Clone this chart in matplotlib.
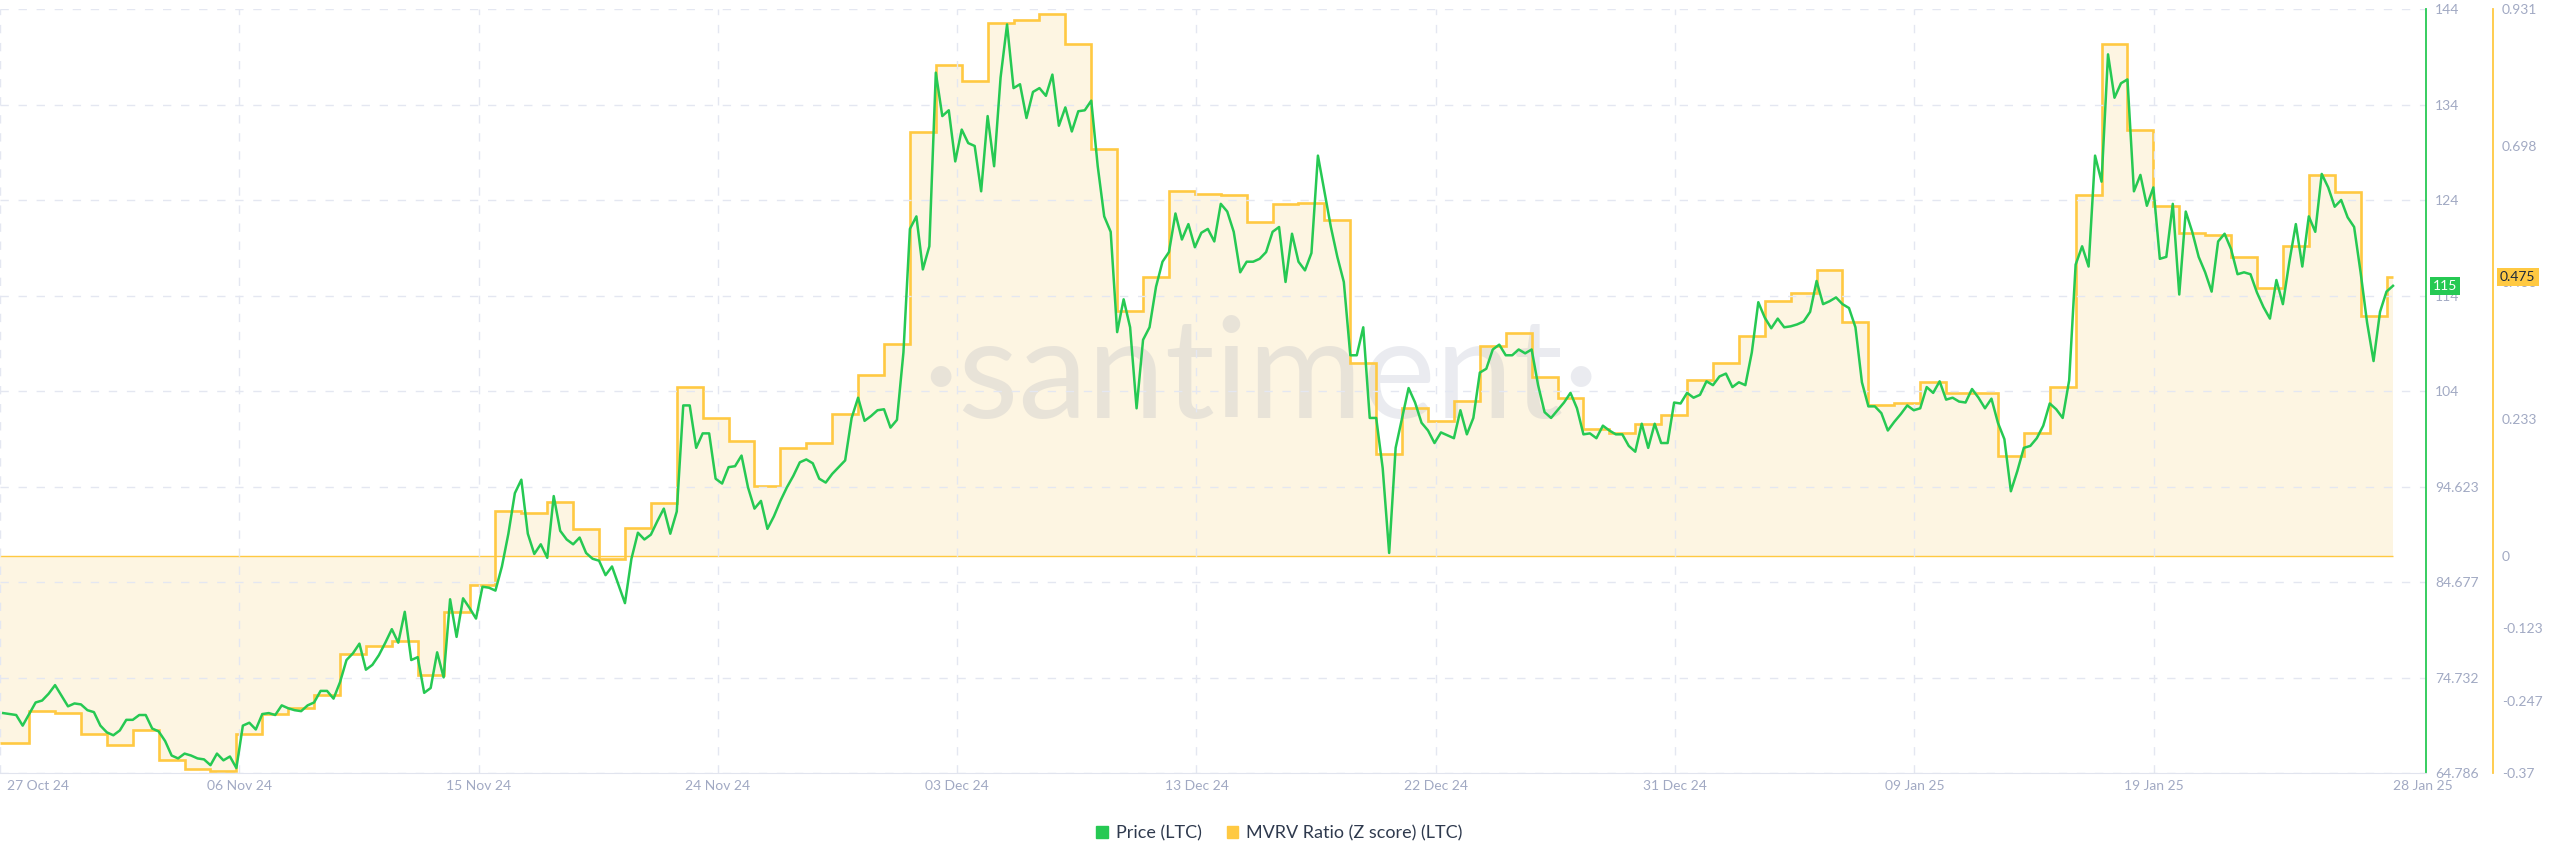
import numpy as np
import pandas as pd
import matplotlib
matplotlib.use("Agg")
import matplotlib.pyplot as plt
import matplotlib.dates as mdates
import matplotlib.transforms as mtransforms
from matplotlib.patches import Patch

plt.rcParams['font.family'] = ['Lato', 'DejaVu Sans']

# LTC price, one value every 6 hours from 28 Oct 2024 00:00
price = [
    71.0, 70.9, 70.8, 69.7, 70.9, 72.1, 72.3, 73.0, 73.9, 72.8,
    71.7, 72.0, 71.9, 71.3, 71.1, 69.7, 69.0, 68.7, 69.2, 70.3,
    70.3, 70.8, 70.8, 69.4, 69.1, 68.1, 66.6, 66.3, 66.8, 66.6,
    66.3, 66.2, 65.6, 66.8, 66.1, 66.5, 65.3, 69.7, 70.0, 69.3,
    70.9, 71.0, 70.8, 71.8, 71.5, 71.3, 71.2, 71.8, 72.1, 73.3,
    73.3, 72.5, 74.2, 76.5, 77.2, 78.2, 75.5, 76.0, 77.0, 78.3,
    79.7, 78.3, 81.5, 76.5, 76.8, 73.1, 73.6, 77.3, 74.7, 82.8,
    78.9, 82.9, 81.9, 80.8, 84.1, 84.0, 83.7, 86.2, 89.6, 93.8,
    95.2, 89.6, 87.5, 88.5, 87.1, 93.5, 89.9, 89.0, 88.5, 89.2,
    87.6, 87.0, 86.8, 85.3, 86.2, 84.3, 82.4, 87.0, 89.7, 89.0,
    89.5, 90.9, 92.2, 89.6, 91.9, 102.9, 102.9, 98.5, 100.0, 100.0,
    95.3, 94.8, 96.5, 96.6, 97.7, 94.4, 92.2, 93.0, 90.1, 91.4,
    93.0, 94.4, 95.6, 97.0, 97.3, 96.9, 95.3, 94.9, 95.8, 96.5,
    97.2, 101.6, 103.7, 101.3, 101.8, 102.4, 102.5, 100.6, 101.4, 108.4,
    121.2, 122.5, 117.0, 119.4, 137.4, 132.9, 133.5, 128.2, 131.5, 130.1,
    129.8, 125.1, 132.9, 127.7, 136.9, 142.4, 135.8, 136.2, 132.7, 135.4,
    135.8, 135.0, 137.2, 131.9, 133.8, 131.3, 133.4, 133.5, 134.5, 127.7,
    122.5, 120.9, 110.5, 113.9, 111.0, 102.6, 109.7, 111.0, 115.2, 117.8,
    118.8, 122.8, 120.1, 121.7, 119.3, 120.8, 121.2, 119.9, 123.8, 123.0,
    120.9, 116.7, 117.8, 117.8, 118.1, 118.8, 120.9, 121.4, 115.7, 120.7,
    117.8, 116.9, 118.7, 128.8, 125.1, 121.4, 118.3, 115.7, 108.1, 108.1,
    111.0, 101.6, 101.6, 96.4, 87.6, 98.5, 101.6, 104.7, 103.2, 101.1,
    100.3, 99.0, 100.1, 99.8, 99.5, 102.4, 99.9, 101.6, 106.3, 106.7,
    108.7, 109.2, 108.1, 108.1, 108.7, 108.3, 108.7, 105.0, 102.2, 101.6,
    102.4, 103.2, 104.2, 102.6, 99.9, 100.0, 99.5, 100.8, 100.3, 99.9,
    99.9, 98.7, 98.1, 101.0, 98.5, 101.0, 99.0, 99.0, 103.2, 103.1,
    104.2, 103.7, 104.0, 105.4, 105.0, 105.9, 106.2, 104.8, 105.3, 105.0,
    108.4, 113.6, 112.0, 110.9, 111.9, 111.0, 111.1, 111.3, 111.6, 112.6,
    115.8, 113.4, 113.7, 114.1, 113.4, 113.0, 111.0, 105.3, 102.8, 102.8,
    102.1, 100.3, 101.2, 102.0, 102.9, 102.4, 102.6, 104.8, 104.2, 105.4,
    103.5, 103.7, 103.3, 103.2, 104.6, 103.7, 102.6, 103.6, 101.1, 99.4,
    94.0, 96.1, 98.5, 98.7, 99.5, 100.8, 103.1, 102.5, 101.6, 105.5,
    117.5, 119.4, 117.3, 128.8, 126.1, 139.3, 134.8, 136.3, 136.7, 125.1,
    126.8, 123.6, 125.5, 118.1, 118.3, 123.8, 114.4, 123.0, 120.9, 118.3,
    116.7, 114.7, 119.9, 120.7, 119.1, 116.5, 116.7, 116.5, 114.6, 113.1,
    111.9, 115.9, 113.4, 117.8, 121.7, 117.3, 122.5, 120.9, 126.9, 125.5,
    123.5, 124.2, 122.4, 121.4, 116.7, 111.5, 107.5, 112.6, 114.7, 115.3,
]

# MVRV ratio (Z score), one value per day from 28 Oct 2024
mvrv = [
    -0.319, -0.265, -0.267, -0.303, -0.323, -0.296, -0.347, -0.363, -0.366, -0.303,
    -0.270, -0.259, -0.237, -0.168, -0.153, -0.145, -0.203, -0.096, -0.050, 0.077,
    0.073, 0.092, 0.045, -0.006, 0.048, 0.089, 0.287, 0.235, 0.196, 0.118,
    0.183, 0.192, 0.241, 0.307, 0.360, 0.721, 0.835, 0.809, 0.908, 0.912,
    0.922, 0.872, 0.693, 0.417, 0.475, 0.621, 0.616, 0.615, 0.569, 0.599,
    0.600, 0.572, 0.329, 0.173, 0.252, 0.229, 0.263, 0.358, 0.380, 0.305,
    0.269, 0.215, 0.209, 0.224, 0.240, 0.300, 0.329, 0.375, 0.434, 0.447,
    0.487, 0.398, 0.256, 0.260, 0.296, 0.277, 0.277, 0.170, 0.209, 0.288,
    0.614, 0.871, 0.725, 0.595, 0.550, 0.546, 0.509, 0.456, 0.528, 0.648,
    0.619, 0.408, 0.475,
]

price_tick_labels = ['64.786', '74.732', '84.677', '94.623', '104', '114', '124', '134', '144']
mvrv_tick_values = [-0.37, -0.247, -0.123, 0, 0.233, 0.466, 0.698, 0.931]
mvrv_tick_labels = ['-0.37', '-0.247', '-0.123', '0', '0.233', '0.466', '0.698', '0.931']

green = '#26c953'
yellow = '#ffc942'
fill_col = '#fdf5e2'
grid_col = '#e4e7f1'
label_col = '#a1a9c3'

price_times = pd.date_range('2024-10-28 00:00', periods=len(price), freq='6h')
mvrv_days = pd.date_range('2024-10-28', periods=len(mvrv), freq='D')
start = price_times[0] - pd.Timedelta(hours=3)
end = price_times[-1]
edges = mdates.date2num([start] + list(mvrv_days[1:]) + [end])
x_price = mdates.date2num(price_times)
x0, x1 = mdates.date2num(start), mdates.date2num(end)

fig = plt.figure(figsize=(25.6, 8.67), dpi=100)
ax = fig.add_axes([0, 0.1084, 2426 / 2560, 0.8812])
ax2 = ax.twinx()
ax.set_zorder(2)
ax.patch.set_visible(False)
ax2.set_zorder(1)

# MVRV: filled steps against zero
ax2.stairs(mvrv, edges, baseline=0, fill=True, color=fill_col, lw=0, zorder=1)
ax2.hlines(0, edges[0], edges[-1], color=yellow, lw=1, zorder=2)
ax2.stairs(mvrv, edges, baseline=None, color=yellow, lw=1.9, zorder=3)
ax2.text(0.4926, 0.563, '·santiment·', transform=fig.transFigure, ha='center', va='center',
         fontsize=100, color=(0.55, 0.58, 0.68), alpha=0.18, zorder=2.5)

# price line
ax.plot(x_price, price, color=green, lw=1.8, zorder=5)

span = x1 - x0
ax.set_xlim(x0, x1 + span * 0.0138)
ax.set_ylim(64.786, 144)
ax2.set_ylim(-0.37, 0.931)

# axes ticks
xticks = np.linspace(x0, x1, 11)
ax.set_xticks(xticks)
ax.xaxis.set_major_formatter(mdates.DateFormatter('%d %b %y'))
ax.set_yticks(np.linspace(64.786, 144, 9))
ax.set_yticklabels(price_tick_labels)
ax2.set_yticks(mvrv_tick_values)
ax2.set_yticklabels(mvrv_tick_labels)

ax.yaxis.tick_right()
ax.tick_params(axis='y', length=0, pad=6.5, labelsize=10, labelcolor=label_col,
               right=True, left=False, labelright=True, labelleft=False)
ax.tick_params(axis='x', length=0, pad=5, labelsize=10, labelcolor=label_col)
ax2.tick_params(axis='y', length=0, pad=6.5, labelsize=10, labelcolor=label_col)

xlabels = ax.get_xticklabels()
xlabels[0].set_ha('left')
xlabels[0].set_transform(xlabels[0].get_transform() +
                         mtransforms.ScaledTranslation(7 / 100, 0, fig.dpi_scale_trans))
xlabels[-1].set_ha('left')

ax.grid(True, color=grid_col, linestyle=(0, (6, 7)), lw=1)
# no vertical grid line on the last date tick
ax.get_xgridlines()[-1].set_visible(False)

for s in ['top', 'left']:
    ax.spines[s].set_visible(False)
ax.spines['right'].set_color(green)
ax.spines['right'].set_linewidth(1.3)
ax.spines['bottom'].set_color('#e1e4ee')
for s in ['top', 'left', 'bottom']:
    ax2.spines[s].set_visible(False)
ax2.spines['right'].set_position(('axes', 2493 / 2426))
ax2.spines['right'].set_color(yellow)
ax2.spines['right'].set_linewidth(1.3)

# last value badges
tr_p = mtransforms.blended_transform_factory(ax.transAxes, ax.transData)
ax.text(1.0, price[-1], f'{round(price[-1])}',
        transform=mtransforms.offset_copy(tr_p, fig=fig, x=7, y=0, units='dots'),
        ha='left', va='center', fontsize=10, color='white', zorder=10,
        bbox=dict(boxstyle='square,pad=0.22', fc=green, ec='none'))
tr_m = mtransforms.blended_transform_factory(ax2.transAxes, ax2.transData)
ax2.text(2493 / 2426, mvrv[-1], f'{mvrv[-1]:.3f}',
         transform=mtransforms.offset_copy(tr_m, fig=fig, x=7, y=0, units='dots'),
         ha='left', va='center', fontsize=10, color='#1f2a3c', zorder=10,
         bbox=dict(boxstyle='square,pad=0.22', fc=yellow, ec='none'))

handles = [Patch(color=green, label='Price (LTC)'),
           Patch(color=yellow, label='MVRV Ratio (Z score) (LTC)')]
fig.legend(handles=handles, loc='center', bbox_to_anchor=(0.4998, 0.039), ncol=2,
           frameon=False, fontsize=13, handlelength=0.62, handleheight=0.62,
           handletextpad=0.45, columnspacing=1.4, labelcolor='#2f3a4e')

fig.savefig('out.png', dpi=100, facecolor='white')
